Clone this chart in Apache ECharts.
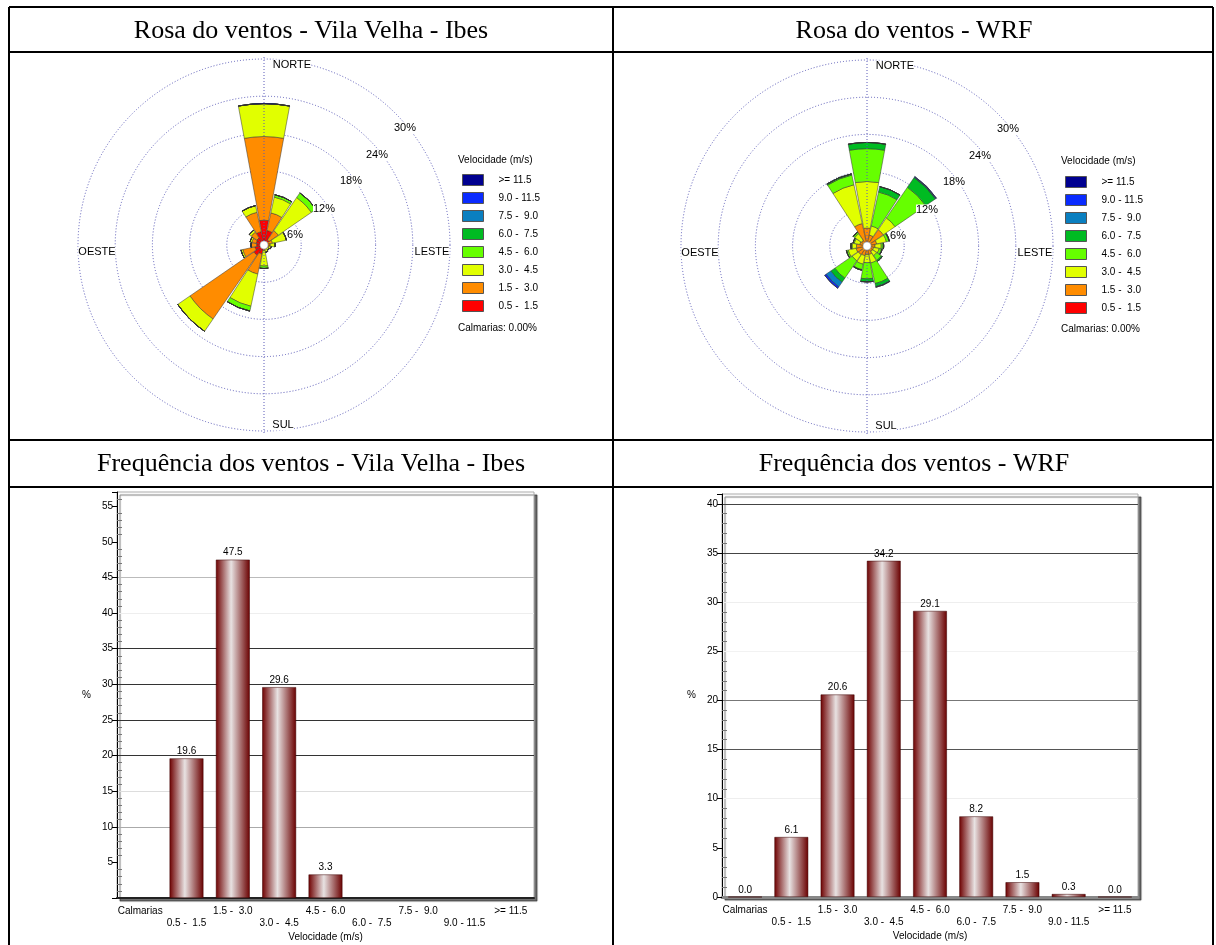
<!DOCTYPE html>
<html><head><meta charset="utf-8">
<script src="https://cdn.jsdelivr.net/npm/echarts@6/dist/echarts.min.js"></script>
<style>html,body{margin:0;padding:0;background:#fff}#c{width:1216px;height:945px}</style>
</head><body><div id="c"></div>
<script>
// ---------- DATA ----------
const directions = ['N','NNE','NE','ENE','E','ESE','SE','SSE','S','SSW','SW','WSW','W','WNW','NW','NNW'];
const speedClasses = ['0.5 -  1.5','1.5 -  3.0','3.0 -  4.5','4.5 -  6.0','6.0 -  7.5','7.5 -  9.0','9.0 - 11.5','>= 11.5'];
// Vila Velha - Ibes rose (% per direction, per speed class)
const ibes_05_15  = [4.0,2.4,1.0,0.6,0.4,0.3,0.3,0.3,0.4,1.5,2.0,1.5,1.2,1.3,1.4,2.2];
const ibes_15_30  = [13.5,2.9,1.8,0.8,0.6,0.5,0.4,0.4,0.5,3.3,12.5,2.0,0.9,0.7,1.1,3.2];
const ibes_30_45  = [5.3,2.6,6.5,2.3,0.8,0.4,0.3,0.5,2.5,5.3,2.4,0.3,0,0.3,0.4,1.1];
const ibes_45_60  = [0,0.4,0.9,0,0,0,0,0,0.4,0.8,0,0,0,0,0,0];
const ibes_60_75  = [0,0,0,0,0,0,0,0,0,0,0,0,0,0,0,0];
const ibes_75_90  = [0,0,0,0,0,0,0,0,0,0,0,0,0,0,0,0];
const ibes_90_115 = [0,0,0,0,0,0,0,0,0,0,0,0,0,0,0,0];
const ibes_115    = [0,0,0,0,0,0,0,0,0,0,0,0,0,0,0,0];
// WRF rose
const wrf_05_15  = [0.5,0.4,0.5,0.4,0.3,0.3,0.3,0.4,0.4,0.4,0.4,0.4,0.4,0.4,0.3,0.4];
const wrf_15_30  = [2.4,1.4,2.7,1.2,1.0,0.8,0.8,1.0,1.0,1.2,1.3,1.4,1.3,0.8,0.8,3.3];
const wrf_30_45  = [7.5,1.5,2.3,1.6,1.0,0.9,0.8,1.4,1.3,1.4,1.2,1.3,0.7,0.9,1.3,6.4];
const wrf_45_60  = [5.3,5.6,6.0,0.4,0.3,0.4,0.9,3.4,2.6,0.9,3.4,0.3,0.2,0.2,0.3,1.6];
const wrf_60_75  = [1.0,0.9,1.9,0.1,0.1,0.1,0.2,0.5,0.5,0.1,0.8,0,0,0,0,0.2];
const wrf_75_90  = [0,0,0.1,0,0,0,0,0.1,0,0,0.9,0,0,0,0,0];
const wrf_90_115 = [0,0,0.1,0,0,0,0,0,0,0,0.3,0,0,0,0,0];
const wrf_115    = [0,0,0,0,0,0,0,0,0,0,0,0,0,0,0,0];
// Frequency bar charts
const barCategories = ['Calmarias','0.5 -  1.5','1.5 -  3.0','3.0 -  4.5','4.5 -  6.0','6.0 -  7.5','7.5 -  9.0','9.0 - 11.5','>= 11.5'];
const freqIbes = [null,19.6,47.5,29.6,3.3,null,null,null,null];
const freqWrf  = [0.0,6.1,20.6,34.2,29.1,8.2,1.5,0.3,0.0];
const ringTicks = [6,12,18,24,30];

// ---------- STYLE ----------
const SANS = '"Liberation Sans", Arial, sans-serif';
const SERIF = '"Liberation Serif", "Times New Roman", serif';
const roseColors = ['#FF0000','#FF8C00','#E1FF00','#66FF00','#00BB22','#0A7FC0','#0A2BFF','#000090'];
const ibesVals = [ibes_05_15,ibes_15_30,ibes_30_45,ibes_45_60,ibes_60_75,ibes_75_90,ibes_90_115,ibes_115];
const wrfVals  = [wrf_05_15,wrf_15_30,wrf_30_45,wrf_45_60,wrf_60_75,wrf_75_90,wrf_90_115,wrf_115];
const roseCenters = [[264,245],[867,246]];
const R = 186;
const ringColor = '#5a5ab8';

const chart = echarts.init(document.getElementById('c'), null, {renderer:'canvas'});

function roseSeries(vals, polarIndex, stack){
  return speedClasses.map((name,i)=>({
    type:'bar', name, coordinateSystem:'polar', polarIndex, stack,
    data: vals[i], barCategoryGap:'7%', silent:true,
    itemStyle:{color:roseColors[i], borderColor:'#333', borderWidth:0.5}
  }));
}
const T = 'rgba(0,0,0,0)';
const barGrad = new echarts.graphic.LinearGradient(0,0,1,0,[
  {offset:0,color:'#6e0000'},{offset:0.45,color:'#e8e2e2'},{offset:1,color:'#6a0000'}]);

function barSeries(name, data, idx){
  return {type:'bar', name, xAxisIndex:idx, yAxisIndex:idx*2, data, barWidth:'73%', silent:true,
    itemStyle:{color:barGrad, borderColor:'#3a0000', borderWidth:0.5},
    label:{show:true, position:'top', distance:2, fontSize:10, fontFamily:SANS, color:'#000',
      formatter:p=>p.value==null?'':Number(p.value).toFixed(1)}};
}

const graphic = [];
// table lines
const L = (x1,y1,x2,y2)=>graphic.push({type:'line',z:200,shape:{x1,y1,x2,y2},style:{stroke:'#000',lineWidth:2}});
L(9,7,1213,7); L(9,7,9,945); L(1213,7,1213,945); L(613,7,613,945);
L(9,52,1213,52); L(9,440,1213,440); L(9,487,1213,487);
// headers
const H = (x,y,t)=>graphic.push({type:'text',z:200,x,y,style:{text:t,font:'26px '+SERIF,fill:'#000',align:'center',verticalAlign:'middle'}});
H(311,31,'Rosa do ventos - Vila Velha - Ibes'); H(914,31,'Rosa do ventos - WRF');
H(311,464,'Frequência dos ventos - Vila Velha - Ibes'); H(914,464,'Frequência dos ventos - WRF');
// rose decorations
const ringLabelOffsets = [[31,-10],[60,-36],[87,-64],[113,-90],[141,-117]];
roseCenters.forEach(([cx,cy])=>{
  graphic.push({type:'line',z:5,shape:{x1:cx,y1:cy-R-2,x2:cx,y2:cy+R+2},style:{stroke:ringColor,lineWidth:1,lineDash:[1,2]}});
  graphic.push({type:'circle',z:150,shape:{cx,cy,r:4},style:{fill:'#fff',stroke:'#999',lineWidth:0.5}});
  const tx = (x,y,t,al)=>graphic.push({type:'text',z:150,x,y,style:{text:t,font:'11px '+SANS,fill:'#000',align:al||'center',verticalAlign:'middle',backgroundColor:'#fff'}});
  tx(cx+28,cy-180,'NORTE'); tx(cx+19,cy+180,'SUL'); tx(cx-167,cy+7,'OESTE'); tx(cx+168,cy+7,'LESTE');
  ringTicks.forEach((v,i)=>tx(cx+ringLabelOffsets[i][0],cy+ringLabelOffsets[i][1],v+'%'));
  graphic.push({type:'text',z:150,x:cx+194,y:cy-85,style:{text:'Velocidade (m/s)',font:'10px '+SANS,fill:'#000',verticalAlign:'middle'}});
  graphic.push({type:'text',z:150,x:cx+194,y:cy+83,style:{text:'Calmarias: 0.00%',font:'10px '+SANS,fill:'#000',verticalAlign:'middle'}});
});

const legendBase = {orient:'vertical', itemWidth:21, itemHeight:11, itemGap:6, icon:'rect', selectedMode:false, padding:0,
  data: speedClasses.slice().reverse(),
  itemStyle:{borderColor:'#555', borderWidth:1},
  textStyle:{fontSize:10, fontFamily:SANS, color:'#000', padding:[0,0,0,10]}};

const polarBase = (c)=>({center:c, radius:[0,R]});
const angleBase = (i)=>({polarIndex:i, type:'category', data:directions, startAngle:101.25, clockwise:true,
  axisLine:{show:false}, axisTick:{show:false}, axisLabel:{show:false}, splitLine:{show:false}});
const radiusBase = (i)=>({polarIndex:i, type:'value', min:0, max:30, interval:6,
  axisLine:{show:false}, axisTick:{show:false}, axisLabel:{show:false},
  splitLine:{show:true, lineStyle:{color:ringColor, type:[1,2], width:1}}});

const xBase = (i)=>({type:'category', gridIndex:i, data:barCategories,
  axisLine:{lineStyle:{color:i?'#888':'#222', width:i?3:2}},
  axisTick:{alignWithLabel:true, length:6, lineStyle:{color:'#000'}},
  axisLabel:{interval:0, fontSize:10, fontFamily:SANS, color:'#000', margin:7, lineHeight:12,
    formatter:(v,idx)=>idx%2?'\n'+v:v},
  name:'Velocidade (m/s)', nameLocation:'middle', nameGap:34,
  nameTextStyle:{fontSize:10, fontFamily:SANS, color:'#000'}});
const yMain = (i,max,colors,showZero)=>({type:'value', gridIndex:i, min:0, max, interval:5, position:'left',
  axisLine:{show:true, lineStyle:{color:'#000'}},
  axisTick:{show:true, length:5, lineStyle:{color:'#000'}},
  axisLabel:{fontSize:10, fontFamily:SANS, color:'#000', margin:4,
    formatter:v=>(v%5===0 && (v>0||showZero))?String(v):''},
  splitLine:{show:true, lineStyle:{color:colors, width:1}},
  name:'%', nameLocation:'middle', nameRotate:0, nameGap:26,
  nameTextStyle:{fontSize:10, fontFamily:SANS, color:'#000'}});
const yMinor = (i,max)=>({type:'value', gridIndex:i, min:0, max, interval:5, position:'left',
  axisLine:{show:false}, axisLabel:{show:false}, splitLine:{show:false},
  axisTick:{show:false, inside:true}, minorTick:{show:true, splitNumber:5, length:5, lineStyle:{color:'#777'}}});

const leftGridColors  = [T,T,'#aaa','#ddd','#333','#333','#333','#333','#eee','#bbb',T,T,T];
const rightGridColors = [T,T,'#eee','#555','#777','#f2f2f2','#eee','#444','#444',T];

const gridBase = {show:true, backgroundColor:'#fff', borderColor:'#aaa', borderWidth:1,
  shadowColor:'rgba(0,0,0,0.55)', shadowOffsetX:3, shadowOffsetY:3, shadowBlur:1, containLabel:false};

chart.setOption({
  animation:false,
  backgroundColor:'#fff',
  polar:[polarBase(roseCenters[0]), polarBase(roseCenters[1])],
  angleAxis:[angleBase(0), angleBase(1)],
  radiusAxis:[radiusBase(0), radiusBase(1)],
  legend:[Object.assign({left:462, top:174}, legendBase), Object.assign({left:1065, top:176}, legendBase)],
  grid:[Object.assign({left:117, top:492, width:417, height:406}, gridBase),
        Object.assign({left:722, top:494, width:416, height:403}, gridBase)],
  xAxis:[xBase(0), xBase(1)],
  yAxis:[yMain(0,57,leftGridColors,false), yMinor(0,57), yMain(1,41,rightGridColors,true), yMinor(1,41)],
  series:[...roseSeries(ibesVals,0,'ibes'), ...roseSeries(wrfVals,1,'wrf'),
    barSeries('Frequência Ibes', freqIbes, 0), barSeries('Frequência WRF', freqWrf, 1)],
  graphic
});
</script></body></html>
